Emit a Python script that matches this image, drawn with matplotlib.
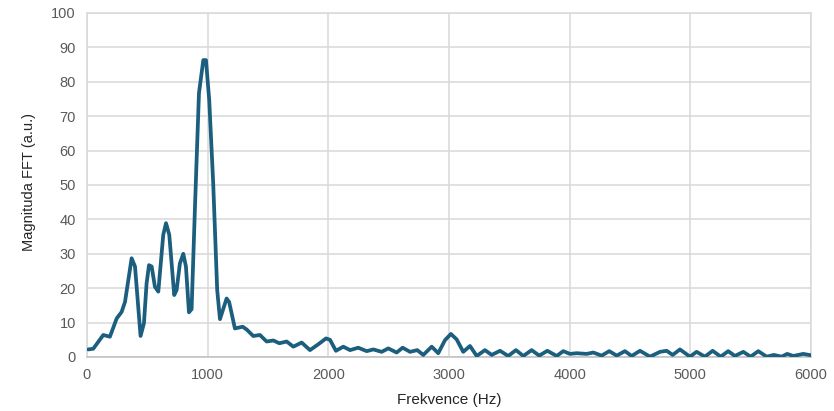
import matplotlib
matplotlib.use("Agg")
import matplotlib.pyplot as plt

plt.rcParams["font.family"] = ["Liberation Sans", "DejaVu Sans"]

# odečtené hodnoty spektra
freq = [10, 52, 135, 190, 246, 287, 315, 370, 398, 444, 472, 494, 514, 536, 563, 591,
        632, 655, 682, 723, 743, 770, 798, 820, 845, 867, 895, 928, 964, 986, 1013,
        1046, 1079, 1102, 1157, 1178, 1226, 1290, 1323, 1378, 1433, 1489, 1544, 1594,
        1655, 1710, 1779, 1848, 1917, 1981, 2014, 2063, 2124, 2180, 2248, 2318, 2373,
        2442, 2497, 2566, 2616, 2677, 2737, 2787, 2857, 2911, 2967, 3016, 3064, 3118,
        3174, 3230, 3298, 3354, 3423, 3491, 3555, 3616, 3685, 3748, 3815, 3893, 3947,
        4003, 4058, 4141, 4196, 4265, 4328, 4390, 4458, 4514, 4583, 4666, 4749, 4804,
        4854, 4914, 4997, 5052, 5121, 5185, 5252, 5314, 5370, 5439, 5500, 5563, 5633,
        5693, 5757, 5803, 5853, 5936, 6000]
magnitude = [2.2, 2.4, 6.4, 5.9, 11.2, 13.1, 16, 28.7, 26.3, 6.1, 9.8, 21.4, 26.7, 26.3,
             20.4, 19, 35.5, 38.9, 35.5, 18, 19.5, 27.2, 30, 26.3, 13, 13.9, 43.7, 76.7,
             86.3, 86.3, 74.7, 50.5, 19.5, 11, 17, 16, 8.3, 8.8, 8, 6.1, 6.4, 4.5, 4.8,
             4.0, 4.5, 3.0, 4.2, 2.0, 3.7, 5.4, 5.0, 1.8, 3.0, 2.0, 2.7, 1.7, 2.2, 1.5,
             2.5, 1.3, 2.7, 1.5, 2.0, 0.6, 3.0, 1.1, 4.9, 6.7, 5.1, 1.5, 3.2, 0.3, 2.0,
             0.6, 1.8, 0.3, 2.0, 0.3, 2.0, 0.4, 1.8, 0.3, 1.7, 0.9, 1.1, 0.9, 1.3, 0.4,
             1.7, 0.4, 1.7, 0.3, 1.8, 0.1, 1.5, 1.8, 0.6, 2.2, 0.1, 1.5, 0.1, 1.8, 0.1,
             1.7, 0.3, 1.5, 0.1, 1.7, 0.1, 0.6, 0.1, 0.9, 0.3, 0.9, 0.5]

x_ticks = [0, 1000, 2000, 3000, 4000, 5000, 6000]
y_ticks = [0, 10, 20, 30, 40, 50, 60, 70, 80, 90, 100]

fig = plt.figure(figsize=(8.34, 4.11), dpi=100)
ax = fig.add_axes([0.1043, 0.1314, 0.8681, 0.837])

ax.plot(freq, magnitude, color="#1b5e7e", linewidth=2.7, solid_joinstyle="round",
        solid_capstyle="round", zorder=3)

ax.set_xlim(0, 6000)
ax.set_ylim(0, 100)
ax.set_xticks(x_ticks)
ax.set_yticks(y_ticks)
ax.grid(True, color="#d9d9d9", linewidth=1.1)
ax.set_axisbelow(True)
for side in ["top", "right", "left"]:
    ax.spines[side].set_color("#d9d9d9")
    ax.spines[side].set_linewidth(1.1)
ax.spines["bottom"].set_color("#bfbfbf")
ax.spines["bottom"].set_linewidth(1.1)
ax.tick_params(length=0, labelsize=10.5, labelcolor="#595959", pad=8)

ax.set_xlabel("Frekvence (Hz)", fontsize=11, color="#262626", labelpad=8)
ax.set_ylabel("Magnituda FFT (a.u.)", fontsize=10.5, color="#262626", labelpad=9)
ax.yaxis.set_label_coords(-0.07, 0.51)

fig.savefig("out.png", dpi=100)
